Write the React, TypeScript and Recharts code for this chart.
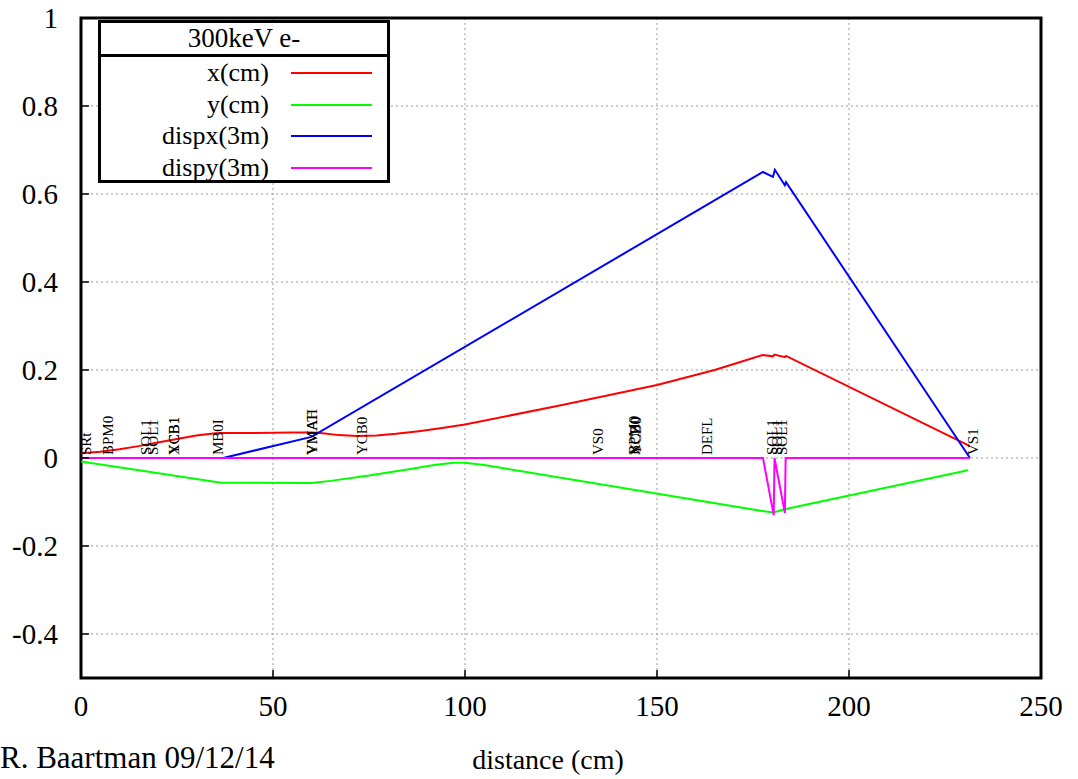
import React from 'react';
import {
  ComposedChart,
  Line,
  Scatter,
  XAxis,
  YAxis,
  CartesianGrid,
  ReferenceArea
} from 'recharts';

// beam envelope x(cm)
const xcmDist = [0, 5, 10, 15, 20, 25, 30, 35, 37, 45, 55, 60, 63, 67, 72, 77, 82, 88, 94, 100, 125, 150, 165, 177.5, 180.2, 180.6, 183.3, 183.6, 231.5];
const xcmVal = [0.011, 0.014, 0.02, 0.027, 0.035, 0.043, 0.051, 0.056, 0.057, 0.057, 0.058, 0.058, 0.056, 0.052, 0.05, 0.051, 0.055, 0.061, 0.068, 0.076, 0.12, 0.166, 0.2, 0.234, 0.231, 0.235, 0.229, 0.232, 0.027];

// beam envelope y(cm)
const ycmDist = [0, 36.5, 60, 65, 75, 85, 92, 97, 100, 105, 177, 180.3, 183.5, 231];
const ycmVal = [-0.008, -0.056, -0.057, -0.052, -0.04, -0.026, -0.016, -0.011, -0.011, -0.016, -0.12, -0.124, -0.116, -0.028];

// dispersion x
const dxDist = [0, 37, 60, 177.6, 180.2, 180.7, 183.3, 183.6, 231.5];
const dxVal = [0, 0, 0.048, 0.65, 0.639, 0.655, 0.62, 0.627, 0];

// dispersion y
const dyDist = [0, 177.6, 180.4, 180.6, 183.3, 183.5, 231.5];
const dyVal = [0, 0, -0.13, 0, -0.125, 0, 0];

// beamline elements
const elemPos = [1.2, 7, 17, 18.7, 24.2, 24.2, 35.7, 60.1, 60.1, 73.2, 134.6, 144, 144.3, 144.6, 163, 180, 181.3, 182.6, 232.3];
const elemNames = ['SRt', 'BPM0', 'SOL1', 'SOL1', 'XCB1', 'YCB1', 'MB0I', 'VMAT', 'YMAH', 'YCB0', 'VS0', 'BPM0', 'XCB0', 'YCB0', 'DEFL', 'SOL1', 'SOL1', 'SOL1', 'VS1'];

const xTicks = [0, 50, 100, 150, 200, 250];
const yTicks = [-0.4, -0.2, 0, 0.2, 0.4, 0.6, 0.8, 1];

const zip = (xs: number[], ys: number[]) => xs.map((x, i) => ({ x, y: ys[i] }));

const series = [
  { name: 'x(cm)', color: '#ff0000', data: zip(xcmDist, xcmVal) },
  { name: 'y(cm)', color: '#00ff00', data: zip(ycmDist, ycmVal) },
  { name: 'dispx(3m)', color: '#0000ff', data: zip(dxDist, dxVal) },
  { name: 'dispy(3m)', color: '#ff00ff', data: zip(dyDist, dyVal) }
];

const elements = elemPos.map((x, i) => ({ x, y: 0, name: elemNames[i] }));

const FONT = 'Liberation Serif';

const ElemLabel = (props: any) => {
  const { cx, cy, payload } = props;
  if (cx == null || cy == null) return null;
  return (
    <text
      x={cx + 3}
      y={cy + 5}
      transform={`rotate(-90 ${cx} ${cy})`}
      fontFamily={FONT}
      fontSize={15}
      fill="#000"
    >
      {payload.name}
    </text>
  );
};

const LegendBox = () => (
  <div
    style={{
      position: 'absolute',
      left: 98,
      top: 20,
      width: 292,
      height: 163,
      boxSizing: 'border-box',
      border: '3px solid #000',
      background: '#fff',
      fontFamily: FONT,
      fontSize: 26
    }}
  >
    <div
      style={{
        height: 34,
        boxSizing: 'border-box',
        borderBottom: '3px solid #000',
        textAlign: 'center',
        lineHeight: '30px',
        fontSize: 27
      }}
    >
      300keV e-
    </div>
    {series.map((s) => (
      <div key={s.name} style={{ position: 'relative', height: 31.5, lineHeight: '31.5px' }}>
        <span style={{ position: 'absolute', right: 118, top: 0 }}>{s.name}</span>
        <span
          style={{
            position: 'absolute',
            left: 190,
            width: 81,
            top: 15,
            height: 2,
            background: s.color
          }}
        />
      </div>
    ))}
  </div>
);

export default function App() {
  const tickStyle = { fill: '#000', fontSize: 29, fontFamily: FONT };
  return (
    <div style={{ position: 'absolute', left: 0, top: 0, width: 1078, height: 779, background: '#fff' }}>
      <ComposedChart
        width={1078}
        height={779}
        margin={{ top: 18, right: 37, bottom: 0, left: 0 }}
      >
        <CartesianGrid stroke="#999" strokeDasharray="2 3" />
        <XAxis
          dataKey="x"
          type="number"
          domain={[0, 250]}
          ticks={xTicks}
          height={101}
          axisLine={false}
          tickSize={-8}
          tickMargin={25}
          tickLine={{ stroke: '#000', strokeWidth: 1.5 }}
          tick={tickStyle}
          allowDataOverflow
        />
        <XAxis
          xAxisId="top"
          orientation="top"
          dataKey="x"
          type="number"
          domain={[0, 250]}
          ticks={xTicks}
          height={0}
          axisLine={false}
          tickSize={-8}
          tickLine={{ stroke: '#000', strokeWidth: 1.5 }}
          tickFormatter={() => ''}
        />
        <YAxis
          dataKey="y"
          type="number"
          domain={[-0.5, 1]}
          ticks={yTicks}
          width={81}
          axisLine={false}
          tickSize={-8}
          tickMargin={31}
          tickLine={{ stroke: '#000', strokeWidth: 1.5 }}
          tick={tickStyle}
          allowDataOverflow
        />
        <YAxis
          yAxisId="right"
          orientation="right"
          dataKey="y"
          type="number"
          domain={[-0.5, 1]}
          ticks={yTicks}
          width={0}
          axisLine={false}
          tickSize={-8}
          tickLine={{ stroke: '#000', strokeWidth: 1.5 }}
          tickFormatter={() => ''}
        />
        <Scatter data={elements} shape={ElemLabel} isAnimationActive={false} />
        {series.map((s) => (
          <Line
            key={s.name}
            data={s.data}
            dataKey="y"
            type="linear"
            stroke={s.color}
            strokeWidth={2}
            dot={false}
            activeDot={false}
            isAnimationActive={false}
          />
        ))}
        <ReferenceArea
          x1={0}
          x2={250}
          y1={-0.5}
          y2={1}
          fill="none"
          fillOpacity={0}
          stroke="#000"
          strokeWidth={3}
        />
      </ComposedChart>
      <LegendBox />
      <div
        style={{
          position: 'absolute',
          left: 0,
          top: 740,
          fontFamily: FONT,
          fontSize: 31
        }}
      >
        R. Baartman 09/12/14
      </div>
      <div
        style={{
          position: 'absolute',
          left: 0,
          width: 1096,
          top: 744,
          textAlign: 'center',
          fontFamily: FONT,
          fontSize: 28
        }}
      >
        distance (cm)
      </div>
    </div>
  );
}
